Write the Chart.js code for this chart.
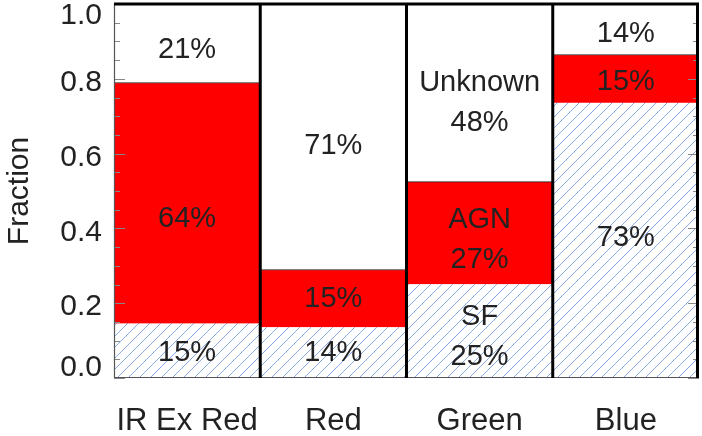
<!DOCTYPE html>
<html><head><meta charset="utf-8">
<script src="https://cdn.jsdelivr.net/npm/chart.js@4/dist/chart.umd.min.js"></script>
<style>html,body{margin:0;padding:0;background:#fff}#wrap{width:702px;height:436px}</style>
</head><body><div id="wrap"><canvas id="c" width="702" height="436"></canvas></div>
<script>
const categories = ['IR Ex Red', 'Red', 'Green', 'Blue'];
const sfValues = [0.145, 0.135, 0.25, 0.735];
const agnValues = [0.645, 0.155, 0.275, 0.13];
const unknownValues = [0.21, 0.71, 0.475, 0.135];
const sfLabels = ['15%', '14%', 'SF\n25%', '73%'];
const agnLabels = ['64%', '15%', 'AGN\n27%', '15%'];
const unknownLabels = ['21%', '71%', 'Unknown\n48%', '14%'];
const yTickValues = [0, 0.2, 0.4, 0.6, 0.8, 1.0];
const yTickLabels = ['0.0', '0.2', '0.4', '0.6', '0.8', '1.0'];

const FONT = '"Liberation Sans", Arial, Helvetica, sans-serif';
const TEXT = '#222';

function makeHatch() {
  const s = 11;
  const c = document.createElement('canvas');
  c.width = s; c.height = s;
  const g = c.getContext('2d');
  g.fillStyle = '#ffffff';
  g.fillRect(0, 0, s, s);
  g.strokeStyle = '#7ea2e2';
  g.lineWidth = 0.9;
  g.beginPath();
  g.moveTo(0, s); g.lineTo(s, 0);
  g.moveTo(-s, s); g.lineTo(s, -s);
  g.moveTo(0, 2 * s); g.lineTo(2 * s, 0);
  g.stroke();
  return g.createPattern(c, 'repeat');
}

const segLabels = [sfLabels, agnLabels, unknownLabels];
// small vertical nudges (px) of the in-bar texts, per dataset / category
const labelNudge = [[2, 0, 6, -3], [16, 0, 7, 3], [7, 9, 10, 5]];

const framePlugin = {
  id: 'frame',
  afterDatasetsDraw(chart) {
    const { ctx, chartArea: a, scales: { x, y } } = chart;
    ctx.save();
    ctx.strokeStyle = '#888';
    ctx.lineWidth = 1;
    for (let i = 0; i <= 20; i++) {
      const py = Math.round(y.getPixelForValue(i * 0.05)) + 0.5;
      const len = (i % 4 === 0) ? 11 : 6;
      ctx.beginPath();
      ctx.moveTo(a.left, py); ctx.lineTo(a.left + len, py);
      ctx.moveTo(a.right, py); ctx.lineTo(a.right - len, py);
      ctx.stroke();
    }
    ctx.strokeStyle = '#555';
    ctx.lineWidth = 1.2;
    ctx.beginPath();
    ctx.moveTo(a.left + 0.5, a.top); ctx.lineTo(a.left + 0.5, a.bottom);
    ctx.moveTo(a.left, a.bottom - 0.5); ctx.lineTo(a.right, a.bottom - 0.5);
    ctx.stroke();
    ctx.strokeStyle = '#000';
    ctx.lineWidth = 3;
    ctx.beginPath();
    for (let i = 1; i <= categories.length; i++) {
      const px = x.getPixelForValue(i - 0.5);
      const xx = (i === categories.length) ? px - 1.5 : px;
      ctx.moveTo(xx, a.top); ctx.lineTo(xx, a.bottom);
    }
    const ty = y.getPixelForValue(1);
    ctx.moveTo(a.left, ty); ctx.lineTo(a.right, ty);
    ctx.stroke();

    ctx.fillStyle = TEXT;
    ctx.font = '29px ' + FONT;
    ctx.textAlign = 'center';
    ctx.textBaseline = 'middle';
    chart.data.datasets.forEach((ds, di) => {
      const meta = chart.getDatasetMeta(di);
      meta.data.forEach((el, i) => {
        const lines = segLabels[di][i].split('\n');
        const cy = (el.y + el.base) / 2 + labelNudge[di][i];
        const sp = 40;
        const start = cy - (lines.length - 1) * sp / 2;
        lines.forEach((t, k) => ctx.fillText(t, el.x, start + k * sp));
      });
    });

    ctx.font = '30px ' + FONT;
    ctx.textAlign = 'right';
    yTickValues.forEach((v, i) => {
      let py = y.getPixelForValue(v) + 4;
      py = Math.max(a.top + 12, Math.min(a.bottom - 10, py));
      ctx.fillText(yTickLabels[i], a.left - 12, py);
    });
    ctx.restore();
  }
};

new Chart(document.getElementById('c'), {
  type: 'bar',
  data: {
    labels: categories,
    datasets: [
      { label: 'SF', data: sfValues, backgroundColor: makeHatch(), borderWidth: 0 },
      { label: 'AGN', data: agnValues, backgroundColor: '#ff0000', borderColor: '#222',
        borderWidth: { top: 1, right: 0, bottom: 0, left: 0 }, borderSkipped: false },
      { label: 'Unknown', data: unknownValues, backgroundColor: '#ffffff', borderWidth: 0 }
    ]
  },
  options: {
    responsive: false,
    animation: false,
    datasets: { bar: { categoryPercentage: 1, barPercentage: 1 } },
    layout: { padding: { top: 4, right: 3, left: 0, bottom: 0 } },
    plugins: { legend: { display: false }, tooltip: { enabled: false } },
    scales: {
      x: {
        stacked: true,
        grid: { display: false, drawTicks: false },
        border: { display: false },
        ticks: { color: TEXT, font: { size: 31, family: FONT }, padding: 25, maxRotation: 0, minRotation: 0, autoSkip: false },
        afterFit(s) { s.height = 58; s.paddingLeft = 0; s.paddingRight = 0; }
      },
      y: {
        stacked: true,
        min: 0, max: 1,
        grid: { display: false, drawTicks: false },
        border: { display: false },
        ticks: { display: false, stepSize: 0.2 },
        title: { display: true, text: 'Fraction', color: TEXT, font: { size: 30, family: FONT }, padding: { top: 2, bottom: 0 } },
        afterFit(s) { s.width = 114; s.paddingTop = 0; s.paddingBottom = 0; }
      }
    }
  },
  plugins: [framePlugin]
});
</script>
</body></html>
